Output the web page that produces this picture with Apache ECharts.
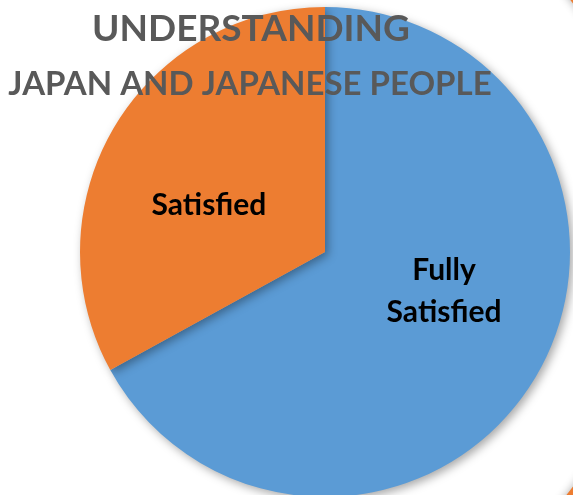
<!DOCTYPE html>
<html><head><meta charset="utf-8">
<script src="https://cdn.jsdelivr.net/npm/echarts@6/dist/echarts.min.js"></script>
<style>html,body{margin:0;padding:0;background:#fff}#c{width:573px;height:495px}</style>
</head><body><div id="c"></div>
<script>
const titleLines = ['UNDERSTANDING', 'JAPAN AND JAPANESE PEOPLE'];
const categories = ['Fully\nSatisfied', 'Satisfied'];
const values = [67, 33];
const colors = ['#5B9BD5', '#ED7D31'];

const FONT = 'Lato, sans-serif';
const chart = echarts.init(document.getElementById('c'));
const labelOffsets = [[11, -25], [-8, 17]];
chart.setOption({
  animation: false,
  title: [
    {text: titleLines[0], left: 246, top: 6, textAlign: 'center',
     textStyle: {fontFamily: FONT, fontWeight: 'bold', fontSize: 37, color: '#595959'}},
    {text: titleLines[1], left: 245, top: 63, textAlign: 'center',
     textStyle: {fontFamily: FONT, fontWeight: 'bold', fontSize: 33, color: '#595959'}}
  ],
  graphic: [{
    type: 'circle', shape: {cx: 249, cy: 245, r: 414}, z: -1,
    style: {fill: 'none', stroke: '#ED7D31', lineWidth: 20, shadowBlur: 8, shadowColor: 'rgba(0,0,0,0.3)'}
  }],
  series: [{
    type: 'pie',
    center: [325, 252],
    radius: 245,
    startAngle: 90,
    clockwise: true,
    label: {show: true, position: 'inside', formatter: '{b}', fontFamily: FONT, fontWeight: 'bold', fontSize: 30, color: '#000', lineHeight: 42},
    labelLine: {show: false},
    emphasis: {disabled: true},
    itemStyle: {borderWidth: 0, shadowBlur: 10, shadowOffsetX: 3, shadowOffsetY: 3, shadowColor: 'rgba(0,0,0,0.35)'},
    data: categories.map((n, i) => ({
      name: n, value: values[i],
      itemStyle: {color: colors[i]},
      label: {offset: labelOffsets[i]}
    }))
  }]
});
</script></body></html>
